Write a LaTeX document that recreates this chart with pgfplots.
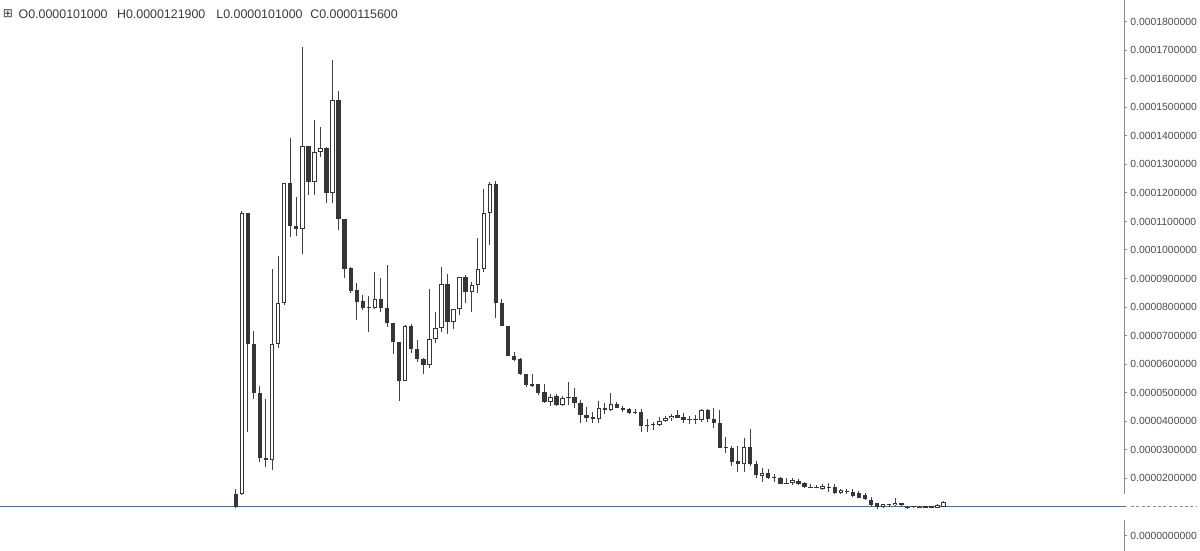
\documentclass[border=0pt]{standalone}
\usepackage{pgfplots}
\pgfplotsset{compat=1.18}
\usepackage{pgfplotstable}
\usepackage{fontspec}
\setmainfont{Liberation Sans}
\newfontfamily\symfont{DejaVu Sans}
\definecolor{candle}{HTML}{363636}
\definecolor{wick}{HTML}{404040}
\definecolor{pline}{HTML}{3D6FA8}
\definecolor{axgray}{HTML}{8C8C8C}
\definecolor{lab}{HTML}{4A4A4A}
\definecolor{head}{HTML}{3A3A3A}

\pgfplotstableread{
i o h l c
0 1.45e-5 1.63e-5 0.97e-5 1.00e-5
1 1.44e-5 11.35e-5 1.42e-5 11.31e-5
2 11.31e-5 11.31e-5 3.64e-5 6.71e-5
3 6.71e-5 7.16e-5 4.77e-5 4.98e-5
4 4.98e-5 5.24e-5 2.58e-5 2.70e-5
5 2.72e-5 4.77e-5 2.39e-5 2.64e-5
6 2.64e-5 9.32e-5 2.29e-5 6.71e-5
7 6.71e-5 9.80e-5 6.56e-5 8.13e-5
8 8.13e-5 12.36e-5 8.07e-5 12.36e-5
9 12.36e-5 13.91e-5 10.47e-5 10.84e-5
10 10.84e-5 11.85e-5 10.48e-5 10.75e-5
11 10.75e-5 17.12e-5 9.86e-5 13.64e-5
12 13.64e-5 13.64e-5 11.93e-5 12.38e-5
13 12.38e-5 14.55e-5 11.93e-5 13.42e-5
14 13.42e-5 14.32e-5 13.25e-5 13.58e-5
15 13.58e-5 13.60e-5 11.64e-5 12.01e-5
16 12.01e-5 16.65e-5 11.64e-5 15.24e-5
17 15.24e-5 15.57e-5 10.71e-5 11.08e-5
18 11.08e-5 11.08e-5 9.01e-5 9.32e-5
19 9.36e-5 9.40e-5 8.50e-5 8.57e-5
20 8.60e-5 8.86e-5 7.55e-5 8.19e-5
21 8.21e-5 8.42e-5 7.90e-5 7.96e-5
22 7.96e-5 8.40e-5 7.12e-5 7.99e-5
23 7.96e-5 9.22e-5 7.93e-5 8.28e-5
24 8.28e-5 9.03e-5 7.82e-5 7.98e-5
25 7.98e-5 9.46e-5 7.31e-5 7.45e-5
26 7.45e-5 7.45e-5 6.36e-5 6.77e-5
27 6.77e-5 6.77e-5 4.72e-5 5.42e-5
28 5.42e-5 7.37e-5 5.42e-5 7.35e-5
29 7.35e-5 7.41e-5 6.38e-5 6.53e-5
30 6.53e-5 6.85e-5 6.07e-5 6.18e-5
31 6.18e-5 6.20e-5 5.65e-5 5.97e-5
32 5.97e-5 8.62e-5 5.86e-5 6.88e-5
33 6.88e-5 7.84e-5 6.73e-5 7.26e-5
34 7.26e-5 9.39e-5 7.12e-5 8.81e-5
35 8.81e-5 9.16e-5 7.05e-5 7.48e-5
36 7.48e-5 7.95e-5 7.22e-5 7.92e-5
37 7.92e-5 9.07e-5 7.72e-5 9.07e-5
38 9.07e-5 9.12e-5 8.13e-5 8.52e-5
39 8.52e-5 8.87e-5 7.82e-5 8.77e-5
40 8.77e-5 10.41e-5 8.48e-5 9.32e-5
41 9.32e-5 12.14e-5 9.24e-5 11.31e-5
42 11.31e-5 12.39e-5 10.18e-5 12.30e-5
43 12.30e-5 12.42e-5 7.63e-5 8.13e-5
44 8.13e-5 8.28e-5 7.35e-5 7.35e-5
45 7.35e-5 7.35e-5 6.28e-5 6.30e-5
46 6.30e-5 6.44e-5 6.11e-5 6.15e-5
47 6.17e-5 6.23e-5 5.62e-5 5.66e-5
48 5.66e-5 5.66e-5 5.19e-5 5.27e-5
49 5.30e-5 5.66e-5 5.21e-5 5.25e-5
50 5.31e-5 5.31e-5 4.92e-5 4.98e-5
51 5.02e-5 5.30e-5 4.63e-5 4.69e-5
52 4.69e-5 4.97e-5 4.54e-5 4.86e-5
53 4.89e-5 4.97e-5 4.54e-5 4.57e-5
54 4.57e-5 4.90e-5 4.54e-5 4.81e-5
55 4.81e-5 5.39e-5 4.57e-5 4.86e-5
56 4.86e-5 5.18e-5 4.46e-5 4.63e-5
57 4.63e-5 4.74e-5 3.93e-5 4.22e-5
58 4.22e-5 4.51e-5 3.99e-5 4.13e-5
59 4.16e-5 4.34e-5 3.93e-5 4.08e-5
60 4.07e-5 4.72e-5 3.95e-5 4.46e-5
61 4.46e-5 4.65e-5 4.26e-5 4.40e-5
62 4.40e-5 4.98e-5 4.37e-5 4.61e-5
63 4.61e-5 4.69e-5 4.46e-5 4.46e-5
64 4.48e-5 4.55e-5 4.33e-5 4.40e-5
65 4.42e-5 4.47e-5 4.25e-5 4.30e-5
66 4.34e-5 4.42e-5 4.26e-5 4.28e-5
67 4.33e-5 4.42e-5 3.64e-5 3.85e-5
68 3.87e-5 4.07e-5 3.64e-5 3.85e-5
69 3.87e-5 3.99e-5 3.70e-5 3.92e-5
70 3.87e-5 4.16e-5 3.85e-5 4.02e-5
71 4.01e-5 4.19e-5 3.99e-5 4.12e-5
72 4.10e-5 4.25e-5 4.02e-5 4.20e-5
73 4.22e-5 4.40e-5 4.11e-5 4.13e-5
74 4.14e-5 4.30e-5 3.95e-5 4.05e-5
75 4.05e-5 4.19e-5 3.90e-5 4.08e-5
76 4.08e-5 4.22e-5 3.91e-5 4.06e-5
77 4.05e-5 4.42e-5 3.99e-5 4.40e-5
78 4.40e-5 4.42e-5 3.99e-5 4.07e-5
79 4.07e-5 4.46e-5 3.78e-5 3.95e-5
80 3.95e-5 4.40e-5 3.08e-5 3.08e-5
81 3.10e-5 3.44e-5 2.90e-5 3.06e-5
82 3.08e-5 3.14e-5 2.43e-5 2.59e-5
83 2.61e-5 3.14e-5 2.23e-5 2.49e-5
84 2.49e-5 3.43e-5 2.23e-5 3.11e-5
85 3.11e-5 3.73e-5 2.45e-5 2.49e-5
86 2.49e-5 2.61e-5 2.03e-5 2.12e-5
87 2.09e-5 2.37e-5 1.88e-5 2.20e-5
88 2.20e-5 2.33e-5 1.98e-5 2.00e-5
89 2.00e-5 2.14e-5 1.88e-5 2.02e-5
90 2.00e-5 2.06e-5 1.80e-5 1.80e-5
91 1.83e-5 2.00e-5 1.80e-5 1.80e-5
92 1.83e-5 2.02e-5 1.77e-5 1.94e-5
93 1.92e-5 1.99e-5 1.77e-5 1.79e-5
94 1.83e-5 1.87e-5 1.66e-5 1.69e-5
95 1.70e-5 1.80e-5 1.68e-5 1.68e-5
96 1.68e-5 1.78e-5 1.65e-5 1.65e-5
97 1.63e-5 1.82e-5 1.60e-5 1.73e-5
98 1.69e-5 1.84e-5 1.52e-5 1.67e-5
99 1.71e-5 1.80e-5 1.46e-5 1.48e-5
100 1.48e-5 1.62e-5 1.46e-5 1.59e-5
101 1.54e-5 1.62e-5 1.45e-5 1.53e-5
102 1.53e-5 1.62e-5 1.36e-5 1.38e-5
103 1.48e-5 1.55e-5 1.30e-5 1.32e-5
104 1.42e-5 1.50e-5 1.26e-5 1.28e-5
105 1.24e-5 1.35e-5 1.05e-5 1.07e-5
106 1.13e-5 1.15e-5 0.92e-5 1.01e-5
107 1.01e-5 1.12e-5 0.98e-5 1.10e-5
108 1.06e-5 1.12e-5 1.00e-5 1.08e-5
109 1.06e-5 1.30e-5 1.04e-5 1.15e-5
110 1.13e-5 1.15e-5 1.04e-5 1.06e-5
111 1.00e-5 1.03e-5 0.92e-5 0.98e-5
112 1.02e-5 1.03e-5 0.96e-5 0.99e-5
113 0.99e-5 1.02e-5 0.95e-5 0.98e-5
114 0.97e-5 1.05e-5 0.95e-5 1.03e-5
115 1.03e-5 1.04e-5 0.95e-5 0.97e-5
116 0.97e-5 1.12e-5 0.96e-5 1.07e-5
117 1.01e-5 1.219e-5 1.01e-5 1.156e-5
}\candles

\begin{document}
\begin{tikzpicture}
\useasboundingbox (0,0) rectangle (600pt,275.5pt);
\begin{axis}[
  at={(0,0)}, anchor=south west,
  scale only axis, width=562pt, height=275.5pt,
  xmin=-38.96, xmax=146.8,
  ymin=-0.543e-5, ymax=18.756e-5,
  axis x line=none,
  axis y line=right,
  y axis line style={draw=axgray, line width=0.5pt, -},
  ytick={0,2e-5,3e-5,4e-5,5e-5,6e-5,7e-5,8e-5,9e-5,10e-5,11e-5,12e-5,13e-5,14e-5,15e-5,16e-5,17e-5,18e-5},
  yticklabels={0.0000000000,0.0000200000,0.0000300000,0.0000400000,0.0000500000,0.0000600000,0.0000700000,0.0000800000,0.0000900000,0.0001000000,0.0001100000,0.0001200000,0.0001300000,0.0001400000,0.0001500000,0.0001600000,0.0001700000,0.0001800000},
  scaled y ticks=false,
  tick align=outside,
  major tick length=1.5pt,
  ytick style={draw=axgray, line width=0.5pt},
  yticklabel style={font=\fontsize{5.2}{6}\selectfont, text=lab, anchor=west, inner sep=0pt, xshift=1.5pt},
]
% price line
\addplot[pline, line width=0.55pt, forget plot] coordinates {(-40,1.01e-5) (150,1.01e-5)};
% wicks
\addplot[draw=none, no markers, forget plot,
  error bars/.cd, y dir=plus, y explicit, error mark=none,
  error bar style={draw=wick, line width=0.5pt}]
  table[x=i, y=l, y error expr={\thisrow{h}-\thisrow{l}}] {\candles};
% bodies
\addplot[draw=none, no markers, forget plot,
  error bars/.cd, y dir=plus, y explicit, error mark=none,
  error bar style={draw=candle, line width=2.2pt}]
  table[x=i, y expr={min(\thisrow{o},\thisrow{c})}, y error expr={max(abs(\thisrow{c}-\thisrow{o}),0.035e-5)}] {\candles};
% hollow interiors of rising candles
\addplot[draw=none, no markers, forget plot,
  error bars/.cd, y dir=plus, y explicit, error mark=none,
  error bar style={draw=white, line width=1.2pt}]
  table[x=i, y expr={\thisrow{o}+0.035e-5}, y error expr={max(\thisrow{c}-\thisrow{o}-0.07e-5,0)}] {\candles};
\end{axis}
\begin{scope}[x=0.5pt,y=-0.5pt,shift={(0,275.5pt)}]
  \fill[white] (1121,494) rectangle (1200,520);
  \draw[pline, line width=0.55pt] (1118,506.7) -- (1126,506.7);
  \draw[axgray, line width=0.5pt, dash pattern=on 1.5pt off 1.2pt] (1131,507) -- (1196,507);
  \node[anchor=west, inner sep=0pt, text=head, font=\symfont\fontsize{6}{7}\selectfont] at (2.5,14) {⊞};
  \node[anchor=west, inner sep=0pt, text=head, font=\fontsize{6.2}{7}\selectfont] at (18.3,14) {O0.0000101000};
  \node[anchor=west, inner sep=0pt, text=head, font=\fontsize{6.2}{7}\selectfont] at (116.7,14) {H0.0000121900};
  \node[anchor=west, inner sep=0pt, text=head, font=\fontsize{6.2}{7}\selectfont] at (216,14) {L0.0000101000};
  \node[anchor=west, inner sep=0pt, text=head, font=\fontsize{6.2}{7}\selectfont] at (310,14) {C0.0000115600};
\end{scope}
\end{tikzpicture}
\end{document}
